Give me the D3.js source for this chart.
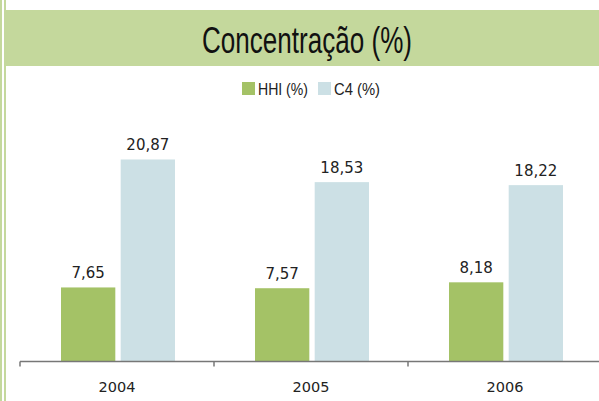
<!DOCTYPE html>
<html><head><meta charset="utf-8">
<script src="https://cdn.jsdelivr.net/npm/d3@7"></script>
<style>
body{margin:0;background:#fff;}
svg{display:block;}
.cond{font-family:"Liberation Sans","Arial",sans-serif;}
.lab{font-family:"DejaVu Sans","Noto Sans",sans-serif;}
</style></head>
<body>
<script>
const categories = ["2004", "2005", "2006"];
const seriesNames = ["HHI (%)", "C4 (%)"];
const hhi = [7.65, 7.57, 8.18];
const c4 = [20.87, 18.53, 18.22];
const valueLabels = [["7,65", "7,57", "8,18"], ["20,87", "18,53", "18,22"]];
const colors = ["#a4c266", "#cce0e5"];

const W = 599, H = 401;
const svg = d3.select("body").append("svg").attr("width", W).attr("height", H);

// left decorative lines
svg.append("rect").attr("x", 0).attr("y", 0).attr("width", 2).attr("height", H).attr("fill", "#c4d89c");
svg.append("rect").attr("x", 4).attr("y", 0).attr("width", 2).attr("height", H).attr("fill", "#c4d89c");
// header band
svg.append("rect").attr("x", 6).attr("y", 10).attr("width", W - 6).attr("height", 56).attr("fill", "#c4d89c");
svg.append("text").attr("class", "cond").attr("x", 307).attr("y", 53).attr("text-anchor", "middle")
  .attr("font-size", 36).attr("fill", "#111")
  .attr("textLength", 210).attr("lengthAdjust", "spacingAndGlyphs").text("Concentração (%)");

// legend
const legendX = [242, 318];
const legendW = [50, 46];
seriesNames.forEach((n, i) => {
  svg.append("rect").attr("x", legendX[i]).attr("y", 82).attr("width", 13).attr("height", 13).attr("fill", colors[i]);
  svg.append("text").attr("class", "cond").attr("x", legendX[i] + 16).attr("y", 95)
    .attr("font-size", 16.5).attr("fill", "#222")
    .attr("textLength", legendW[i]).attr("lengthAdjust", "spacingAndGlyphs").text(n);
});

const x0 = d3.scaleBand().domain(categories).range([20, 20 + 3 * 194]).paddingInner(0).paddingOuter(0);
const x1 = d3.scaleBand().domain([0, 1]).range([41, 41 + 114]).paddingInner(0.09);
const y = d3.scaleLinear().domain([0, 25]).range([361.5, 361.5 - 25 * 9.68]);

const series = [hhi, c4];
const g = svg.append("g");
categories.forEach((c, ci) => {
  series.forEach((s, si) => {
    const bx = x0(c) + x1(si);
    g.append("rect").attr("x", bx).attr("y", y(s[ci])).attr("width", x1.bandwidth())
      .attr("height", y(0) - y(s[ci])).attr("fill", colors[si]);
    g.append("text").attr("class", "lab").attr("x", bx + x1.bandwidth() / 2).attr("y", y(s[ci]) - 9)
      .attr("text-anchor", "middle").attr("font-size", 15).attr("fill", "#222").text(valueLabels[si][ci]);
  });
});

// axis
const ax = svg.append("g").attr("transform", `translate(0,${y(0)})`);
ax.append("line").attr("x1", 20).attr("x2", W).attr("y1", 0).attr("y2", 0).attr("stroke", "#777").attr("stroke-width", 1.5);
const bounds = categories.map(c => x0(c)).concat([x0(categories[2]) + x0.bandwidth()]);
bounds.forEach(b => ax.append("line").attr("x1", b).attr("x2", b).attr("y1", 0).attr("y2", 5).attr("stroke", "#777").attr("stroke-width", 1.5));
categories.forEach(c => {
  ax.append("text").attr("class", "lab").attr("x", x0(c) + 97).attr("y", 30).attr("text-anchor", "middle")
    .attr("font-size", 14.5).attr("fill", "#222").text(c);
});
</script>
</body></html>
